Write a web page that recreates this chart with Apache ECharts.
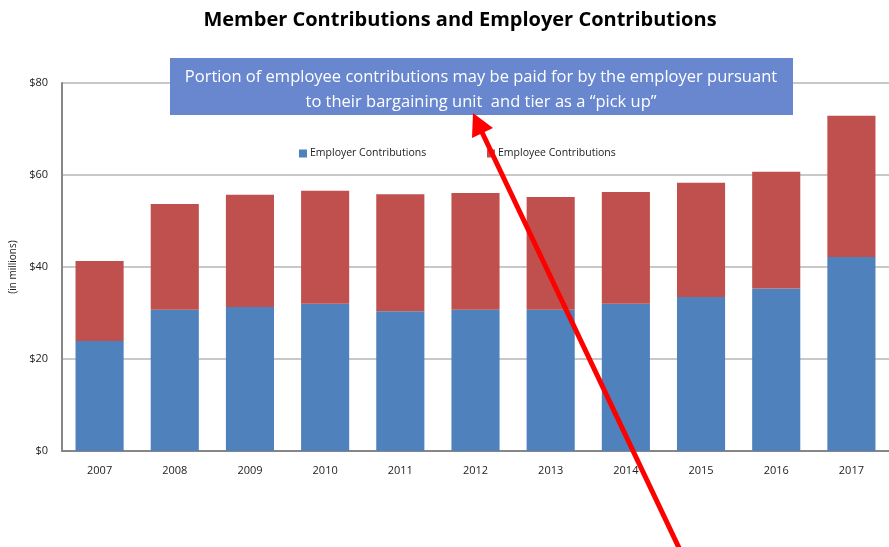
<!DOCTYPE html>
<html>
<head>
<meta charset="utf-8">
<script src="https://cdn.jsdelivr.net/npm/echarts@6/dist/echarts.min.js"></script>
<style>html,body{margin:0;padding:0;background:#fff;}#c{width:889px;height:547px;}</style>
</head>
<body>
<div id="c"></div>
<script>
var years = ['2007','2008','2009','2010','2011','2012','2013','2014','2015','2016','2017'];
var employerContributions = [23.9, 30.7, 31.3, 32.0, 30.4, 30.7, 30.7, 32.0, 33.5, 35.3, 42.2];
var employeeContributions = [17.4, 23.0, 24.4, 24.6, 25.4, 25.4, 24.5, 24.3, 24.8, 25.4, 30.7];
var yTicks = [0, 20, 40, 60, 80];

var chart = echarts.init(document.getElementById('c'), null, {renderer: 'canvas'});
var font = '"Open Sans", "Liberation Sans", sans-serif';
chart.setOption({
  animation: false,
  backgroundColor: '#ffffff',
  title: {
    text: 'Member Contributions and Employer Contributions',
    left: 455, textAlign: 'center', top: 5,
    textStyle: {fontFamily: font, fontSize: 20, fontWeight: 'bold', color: '#000'}
  },
  legend: [
    {data: ['Employer Contributions'], left: 294, top: 143, itemWidth: 8, itemHeight: 8, icon: 'rect', itemGap: 4,
     textStyle: {fontFamily: font, fontSize: 10.5, color: '#222', padding: [0,0,0,-2]}},
    {data: ['Employee Contributions'], left: 482, top: 143, itemWidth: 8, itemHeight: 8, icon: 'rect', itemGap: 4,
     textStyle: {fontFamily: font, fontSize: 10.5, color: '#222', padding: [0,0,0,-2]}}
  ],
  grid: {left: 62, top: 83, height: 368, width: 838, containLabel: false},
  xAxis: {
    type: 'category', data: years,
    axisLine: {lineStyle: {color: '#868686', width: 2}},
    axisTick: {show: false},
    axisLabel: {fontFamily: font, fontSize: 11, color: '#222', margin: 14}
  },
  yAxis: {
    type: 'value', min: yTicks[0], max: yTicks[yTicks.length-1], interval: 20,
    name: '(in millions)', nameLocation: 'middle', nameGap: 42, nameRotate: 90,
    nameTextStyle: {fontFamily: font, fontSize: 10, color: '#222'},
    axisLine: {show: true, lineStyle: {color: '#868686', width: 2}},
    axisTick: {show: false},
    axisLabel: {fontFamily: font, fontSize: 11, color: '#222', margin: 14, formatter: function(v){return '$' + v;}},
    splitLine: {lineStyle: {color: '#c8c8c8', width: 2}}
  },
  series: [
    {name: 'Employer Contributions', type: 'bar', stack: 'total', data: employerContributions,
     barCategoryGap: '36%', itemStyle: {color: '#4f81bd'}},
    {name: 'Employee Contributions', type: 'bar', stack: 'total', data: employeeContributions,
     barCategoryGap: '36%', itemStyle: {color: '#c0504d'}}
  ],
  graphic: [
    {type: 'rect', shape: {x: 170, y: 58, width: 623, height: 57}, style: {fill: '#6887cf'}, z: 100},
    {type: 'text', z: 101,
     style: {x: 481, y: 65, text: 'Portion of employee contributions may be paid for by the employer pursuant\nto their bargaining unit  and tier as a \u201cpick up\u201d',
             fill: '#ffffff', font: '16.5px "Open Sans", sans-serif', textAlign: 'center', textVerticalAlign: 'top', lineHeight: 25}},
    {type: 'line', shape: {x1: 680, y1: 550, x2: 480, y2: 128}, style: {stroke: '#ff0000', lineWidth: 5}, z: 110},
    {type: 'polygon', shape: {points: [[473,113],[493,128],[472,138]]}, style: {fill: '#ff0000'}, z: 111}
  ]
});
</script>
</body>
</html>
